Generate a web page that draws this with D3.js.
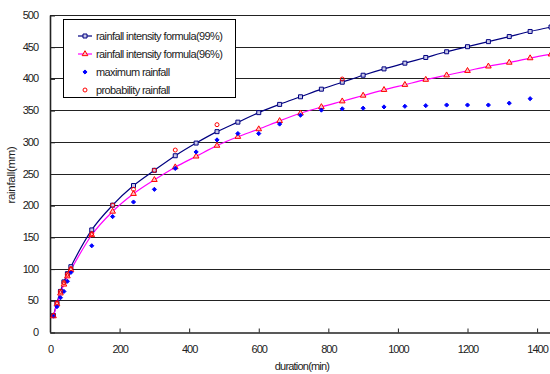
<!DOCTYPE html>
<html>
<head>
<meta charset="utf-8">
<script src="https://cdn.jsdelivr.net/npm/d3@7"></script>
<style>
  body { margin: 0; background: #fff; }
  svg { display: block; font-family: "Liberation Sans", Arial, sans-serif; }
</style>
</head>
<body>
<svg id="chart" width="550" height="374"></svg>
<script>
// durations (min)
const durations = [10, 20, 30, 40, 50, 60, 120, 180, 240, 300, 360, 420, 480, 540, 600, 660, 720,
  780, 840, 900, 960, 1020, 1080, 1140, 1200, 1260, 1320, 1380, 1440];

// rainfall intensity formula (99%)
const formula99 = [26, 46, 64, 79, 92, 103, 161, 200, 231, 255, 278, 298, 316, 331, 346, 359, 371,
  383, 394, 405, 415, 424, 433, 442, 450, 458, 466, 474, 481];

// rainfall intensity formula (96%)
const formula96 = [25, 44, 61, 75, 88, 98, 153, 190, 218, 240, 260, 277, 294, 308, 320, 333, 345,
  355, 364, 373, 382, 390, 398, 405, 412, 419, 425, 432, 438];

// maximum rainfall
const maxDurations = [10, 20, 30, 40, 50, 60, 120, 180, 240, 300, 360, 420, 480, 540, 600, 660, 720,
  780, 840, 900, 960, 1020, 1080, 1140, 1200, 1260, 1320, 1380];
const maxRain = [25, 40, 54, 64, 80, 94, 136, 182, 205, 225, 258, 284, 303, 313, 313, 328, 342,
  350, 352, 353, 355, 356, 357, 358, 358, 358, 361, 368];

// probability rainfall
const probDurations = [10, 20, 30, 40, 50, 60, 120, 180, 240, 300, 360, 480, 840];
const probRain = [26, 46, 64, 78, 91, 100, 155, 200, 225, 255, 287, 327, 399];

const xTicks = [0, 200, 400, 600, 800, 1000, 1200, 1400];
const yTicks = [0, 50, 100, 150, 200, 250, 300, 350, 400, 450, 500];

const legendLabels = ['rainfall intensity formula(99%)', 'rainfall intensity formula(96%)',
  'maximum rainfall', 'probability rainfall'];

const svg = d3.select('#chart');
const plotLeft = 50, plotRight = 551, plotTop = 15, plotBottom = 332;

const x = d3.scaleLinear().domain([0, 1440]).range([plotLeft, plotRight]);
const y = d3.scaleLinear().domain([0, 500]).range([plotBottom, plotTop]);

svg.append('rect').attr('width', 550).attr('height', 374).attr('fill', '#fff');

// horizontal grid
svg.append('g')
  .selectAll('line')
  .data(yTicks.filter((d) => d > 0))
  .enter()
  .append('line')
  .attr('x1', plotLeft)
  .attr('x2', 550)
  .attr('y1', (d) => Math.round(y(d)) + 0.5)
  .attr('y2', (d) => Math.round(y(d)) + 0.5)
  .attr('stroke', '#222')
  .attr('stroke-width', 1);

// axes
const xAxis = svg.append('g')
  .attr('transform', `translate(0,${Math.round(plotBottom) + 0.5})`)
  .call(d3.axisBottom(x).tickValues(xTicks).tickFormat(d3.format('d'))
    .tickSizeInner(-4).tickSizeOuter(0).tickPadding(13));
const yAxis = svg.append('g')
  .attr('transform', `translate(${plotLeft},0)`)
  .call(d3.axisLeft(y).tickValues(yTicks).tickSizeInner(-5).tickSizeOuter(0).tickPadding(12));

[xAxis, yAxis].forEach((g) => {
  g.selectAll('text').attr('font-size', 11).attr('fill', '#222')
    .attr('letter-spacing', -1)
    .attr('font-family', '"Liberation Sans", Arial, sans-serif');
  g.select('.domain').attr('stroke', '#222').attr('stroke-width', 1.6);
  g.selectAll('.tick line').attr('stroke', '#222');
});
yAxis.selectAll('.tick line').attr('transform', 'translate(0,0.5)');

svg.append('text')
  .attr('x', 302).attr('y', 370)
  .attr('text-anchor', 'middle')
  .attr('font-size', 11)
  .attr('letter-spacing', -0.8)
  .attr('fill', '#222')
  .text('duration(min)');

svg.append('text')
  .attr('transform', 'translate(15,175) rotate(-90)')
  .attr('text-anchor', 'middle')
  .attr('font-size', 11.5)
  .attr('letter-spacing', -0.3)
  .attr('fill', '#222')
  .text('rainfall(mm)');

const plot = svg.append('g');
svg.append('clipPath').attr('id', 'clip')
  .append('rect').attr('x', plotLeft).attr('y', 0).attr('width', 550 - plotLeft).attr('height', plotBottom + 2);
plot.attr('clip-path', 'url(#clip)');

const line = d3.line()
  .x((d) => x(d[0]))
  .y((d) => y(d[1]))
  .curve(d3.curveMonotoneX);

const s99 = durations.map((d, i) => [d, formula99[i]]);
const s96 = durations.map((d, i) => [d, formula96[i]]);
const sMax = maxDurations.map((d, i) => [d, maxRain[i]]);
const sProb = probDurations.map((d, i) => [d, probRain[i]]);

plot.append('path').datum(s99).attr('d', line)
  .attr('fill', 'none').attr('stroke', '#000080').attr('stroke-width', 1.2);
plot.append('path').datum(s96).attr('d', line)
  .attr('fill', 'none').attr('stroke', '#ff00ff').attr('stroke-width', 1.2);

const square = d3.symbol().type(d3.symbolSquare).size(16);
const triangle = d3.symbol().type(d3.symbolTriangle).size(14);
const diamond = d3.symbol().type(d3.symbolDiamond2).size(11);

plot.append('g').selectAll('path')
  .data(s99).enter().append('path')
  .attr('d', square)
  .attr('transform', (d) => `translate(${x(d[0])},${y(d[1])})`)
  .attr('fill', '#c8c8e8').attr('stroke', '#000080').attr('stroke-width', 1);

plot.append('g').selectAll('path')
  .data(s96).enter().append('path')
  .attr('d', triangle)
  .attr('transform', (d) => `translate(${x(d[0])},${y(d[1])})`)
  .attr('fill', '#ffc0c0').attr('stroke', '#ff0000').attr('stroke-width', 1);

plot.append('g').selectAll('path')
  .data(sMax).enter().append('path')
  .attr('d', diamond)
  .attr('transform', (d) => `translate(${x(d[0])},${y(d[1])})`)
  .attr('fill', '#0000ff').attr('stroke', '#0000ff').attr('stroke-width', 1);

plot.append('g').selectAll('circle')
  .data(sProb).enter().append('circle')
  .attr('cx', (d) => x(d[0]))
  .attr('cy', (d) => y(d[1]))
  .attr('r', 2)
  .attr('fill', 'none').attr('stroke', '#ff0000').attr('stroke-width', 1);

// legend
const lg = svg.append('g');
lg.append('rect')
  .attr('x', 63.5).attr('y', 19.5).attr('width', 172).attr('height', 78)
  .attr('fill', '#fff').attr('stroke', '#000').attr('stroke-width', 1);

const rowY = [36, 54, 72, 90];
const items = lg.selectAll('.item').data(legendLabels).enter().append('g')
  .attr('transform', (d, i) => `translate(0,${rowY[i]})`);

items.each(function (d, i) {
  const g = d3.select(this);
  if (i < 2) {
    g.append('line').attr('x1', 78).attr('x2', 92).attr('y1', 0).attr('y2', 0)
      .attr('stroke', i === 0 ? '#000080' : '#ff00ff').attr('stroke-width', 1.2);
  }
  if (i === 0) {
    g.append('path').attr('d', square).attr('transform', 'translate(85,0)')
      .attr('fill', '#c8c8e8').attr('stroke', '#000080');
  } else if (i === 1) {
    g.append('path').attr('d', triangle).attr('transform', 'translate(85,0)')
      .attr('fill', '#ffc0c0').attr('stroke', '#ff0000');
  } else if (i === 2) {
    g.append('path').attr('d', diamond).attr('transform', 'translate(85,0)')
      .attr('fill', '#0000ff').attr('stroke', '#0000ff');
  } else {
    g.append('circle').attr('cx', 85).attr('cy', 0).attr('r', 2)
      .attr('fill', 'none').attr('stroke', '#ff0000');
  }
  g.append('text').attr('x', 96).attr('y', 4)
    .attr('font-size', 11).attr('letter-spacing', -0.6).attr('fill', '#222')
    .text(d);
});
</script>
</body>
</html>
